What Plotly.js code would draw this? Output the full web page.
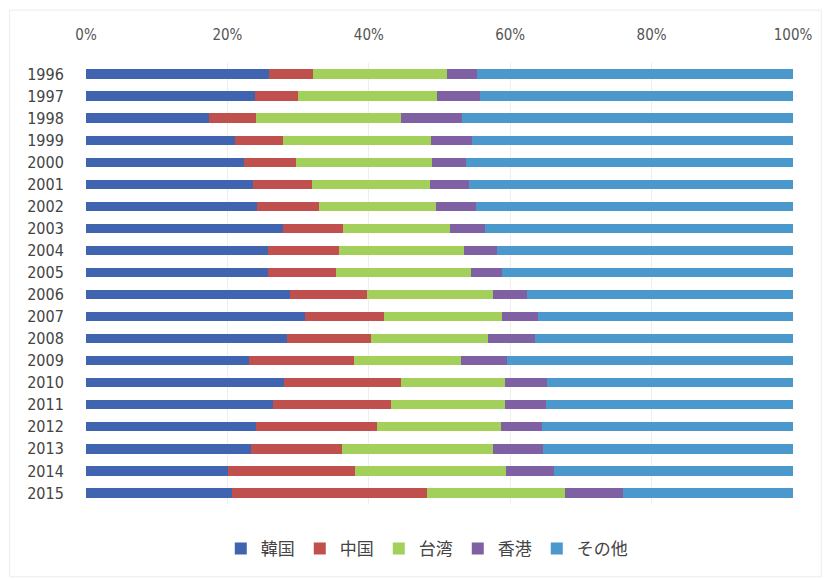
<!DOCTYPE html>
<html>
<head>
<meta charset="utf-8">
<script src="https://cdn.plot.ly/plotly-3.0.1.min.js"></script>
<style>html,body{margin:0;padding:0;background:#fff;}#chart{width:827px;height:579px;}</style>
</head>
<body>
<div id="chart"></div>
<script>
const years = ["1996","1997","1998","1999","2000","2001","2002","2003","2004","2005","2006","2007","2008","2009","2010","2011","2012","2013","2014","2015"];
const korea   = [25.9,23.9,17.4,21.1,22.3,23.6,24.2,27.8,25.7,25.7,28.8,31.0,28.4,23.1,28.0,26.5,24.1,23.3,20.1,20.6];
const china   = [6.2,6.1,6.6,6.7,7.4,8.3,8.7,8.6,10.1,9.7,10.9,11.2,11.9,14.8,16.5,16.7,17.0,12.9,18.0,27.6];
const taiwan  = [18.9,19.6,20.6,21.0,19.2,16.8,16.6,15.1,17.6,19.1,17.9,16.6,16.6,15.1,14.8,16.1,17.6,21.3,21.3,19.6];
const hongkong= [4.3,6.1,8.6,5.8,4.9,5.5,5.6,5.0,4.8,4.3,4.8,5.2,6.6,6.6,5.9,5.7,5.8,7.2,6.8,8.2];
const other   = [44.7,44.3,46.8,45.4,46.2,45.8,44.9,43.5,41.8,41.2,37.6,36.0,36.5,40.4,34.8,35.0,35.5,35.3,33.8,24.0];
const seriesNames = ["韓国","中国","台湾","香港","その他"];
const seriesData = [korea, china, taiwan, hongkong, other];
const colors = ["#4064B0","#C0504D","#A2D05A","#7F60A2","#4A98CC"];

const traces = seriesNames.map((n,i)=>({
  type:'bar', orientation:'h', name:n, y:years, x:seriesData[i],
  marker:{color:colors[i], line:{width:0}}, hoverinfo:'x+y+name'
}));

const layout = {
  width:827, height:579,
  margin:{l:86, r:34, t:63, b:75},
  paper_bgcolor:'#fff', plot_bgcolor:'#fff',
  barmode:'stack', barnorm:'percent', bargap:0.58,
  font:{family:'"Noto Sans CJK JP", "DejaVu Sans", sans-serif', color:'#444'},
  xaxis:{side:'top', range:[0,100], dtick:20, ticksuffix:'%', showgrid:true, gridcolor:'#eeeeee', gridwidth:1,
         zeroline:false, showline:false, ticks:'outside', ticklen:16, tickcolor:'rgba(0,0,0,0)',
         tickfont:{size:15, color:'#555', family:'"DejaVu Sans Condensed", "DejaVu Sans", sans-serif'}, fixedrange:true},
  yaxis:{type:'category', autorange:'reversed', showgrid:false, zeroline:false, showline:false,
         ticks:'outside', ticklen:18, tickcolor:'rgba(0,0,0,0)',
         tickfont:{size:16, color:'#444', family:'"DejaVu Sans Condensed", "DejaVu Sans", sans-serif'}, fixedrange:true},
  legend:{orientation:'h', x:0.482, xanchor:'center', y:-0.102, yanchor:'middle', traceorder:'normal',
          font:{size:17, color:'#444'}, itemwidth:30},
  showlegend:true,
  shapes:[{type:'rect', xref:'paper', yref:'paper', x0:-0.108, x1:1.04, y0:-0.165, y1:1.12,
           line:{color:'#ececec', width:1}, fillcolor:'rgba(0,0,0,0)', layer:'below'}]
};
Plotly.newPlot('chart', traces, layout, {displayModeBar:false, staticPlot:true});
</script>
</body>
</html>
